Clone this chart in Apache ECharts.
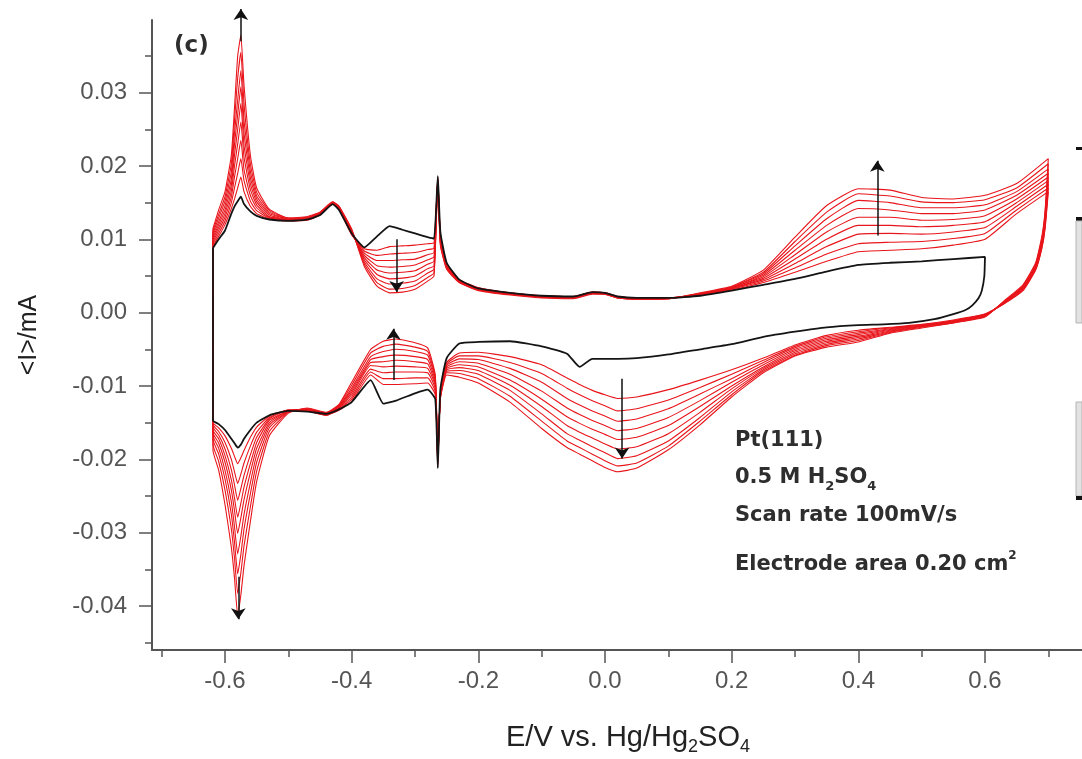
<!DOCTYPE html>
<html>
<head>
<meta charset="utf-8">
<title>Pt(111) CV</title>
<script src="https://cdn.jsdelivr.net/npm/echarts@6/dist/echarts.min.js"></script>
<style>
html, body { margin: 0; padding: 0; background: #fff; }
#chart { width: 1082px; height: 759px; }
</style>
</head>
<body>
<div id="chart"></div>
<script>
// potential grid of the anodic (upper) and cathodic (lower) sweeps, V vs Hg/Hg2SO4
const X_UP = [-0.619, -0.61, -0.6, -0.59, -0.585, -0.58, -0.575, -0.57, -0.56, -0.55,
  -0.53, -0.5, -0.47, -0.45, -0.43, -0.42, -0.4, -0.38, -0.36, -0.34,
  -0.32, -0.3, -0.28, -0.27, -0.264, -0.26, -0.25, -0.23, -0.2, -0.15,
  -0.1, -0.05, -0.02, 0, 0.02, 0.05, 0.1, 0.15, 0.2, 0.25,
  0.3, 0.35, 0.4, 0.45, 0.5, 0.55, 0.6, 0.65, 0.7]
const X_DN = [0.695, 0.69, 0.68, 0.66, 0.63, 0.6, 0.55, 0.5, 0.45, 0.4,
  0.35, 0.3, 0.25, 0.2, 0.15, 0.1, 0.05, 0.02, 0, -0.02,
  -0.04, -0.06, -0.1, -0.15, -0.2, -0.23, -0.25, -0.26, -0.264, -0.268,
  -0.28, -0.3, -0.33, -0.35, -0.37, -0.4, -0.42, -0.44, -0.47, -0.5,
  -0.53, -0.55, -0.56, -0.57, -0.575, -0.58, -0.585, -0.59, -0.6, -0.61, -0.619]
const BLACK_X_DN = [0.6, 0.599, 0.595, 0.59, 0.58, 0.57, 0.55, 0.52, 0.48, 0.44,
  0.4, 0.35, 0.3, 0.25, 0.2, 0.15, 0.1, 0.05, 0.02, 0,
  -0.02, -0.04, -0.06, -0.1, -0.15, -0.2, -0.23, -0.25, -0.26, -0.264,
  -0.268, -0.28, -0.3, -0.33, -0.35, -0.37, -0.4, -0.42, -0.44, -0.47,
  -0.5, -0.53, -0.55, -0.56, -0.57, -0.575, -0.58, -0.585, -0.59, -0.6, -0.61, -0.619]

// first cycle (black), current in mA
const BLACK_UP = [0.0088, 0.0100, 0.0112, 0.0135, 0.0145, 0.0152, 0.0158, 0.0148, 0.0138, 0.0132,
  0.0127, 0.0125, 0.0127, 0.0133, 0.0148, 0.0140, 0.0108, 0.0089, 0.0104, 0.0118,
  0.0113, 0.0108, 0.0103, 0.0101, 0.0186, 0.0110, 0.0068, 0.0045, 0.0033, 0.0027,
  0.0023, 0.0022, 0.0028, 0.0027, 0.0022, 0.0020, 0.0020, 0.0023, 0.0030, 0.0038,
  0.0046, 0.0056, 0.0065, 0.0068, 0.0070, 0.0073, 0.0076]
const BLACK_DN = [0.0076, 0.0050, 0.0030, 0.0020, 0.0010, 0.0004, -0.0002, -0.0009, -0.0014, -0.0016,
  -0.0017, -0.0020, -0.0026, -0.0033, -0.0043, -0.0050, -0.0057, -0.0062, -0.0063, -0.0063,
  -0.0063, -0.0074, -0.0056, -0.0046, -0.0039, -0.0040, -0.0042, -0.0062, -0.0105, -0.0212,
  -0.0118, -0.0105, -0.0110, -0.0120, -0.0124, -0.0092, -0.0122, -0.0132, -0.0138, -0.0135,
  -0.0134, -0.0140, -0.0150, -0.0160, -0.0172, -0.0180, -0.0184, -0.0178, -0.0172, -0.0160, -0.0152, -0.0147]

// following cycles (red), upper sweep
const RED1_UP = [0.0091, 0.0104, 0.0120, 0.0142, 0.0155, 0.0170, 0.0185, 0.0165, 0.0145, 0.0135,
  0.0128, 0.0125, 0.0126, 0.0133, 0.0148, 0.0141, 0.0106, 0.0087, 0.0085, 0.0090,
  0.0091, 0.0092, 0.0094, 0.0095, 0.0185, 0.0108, 0.0067, 0.0045, 0.0034, 0.0027,
  0.0023, 0.0022, 0.0028, 0.0027, 0.0022, 0.0020, 0.0020, 0.0024, 0.0031, 0.0041,
  0.0055, 0.0070, 0.0083, 0.0085, 0.0087, 0.0092, 0.0100, 0.0135, 0.0165]
const RED2_UP = [0.0094, 0.0108, 0.0125, 0.0150, 0.0170, 0.0190, 0.0210, 0.0180, 0.0152, 0.0139,
  0.0129, 0.0126, 0.0127, 0.0134, 0.0148, 0.0142, 0.0107, 0.0084, 0.0078, 0.0080,
  0.0081, 0.0082, 0.0086, 0.0088, 0.0184, 0.0106, 0.0066, 0.0044, 0.0034, 0.0027,
  0.0023, 0.0022, 0.0028, 0.0027, 0.0022, 0.0020, 0.0020, 0.0024, 0.0032, 0.0043,
  0.0061, 0.0080, 0.0094, 0.0096, 0.0097, 0.0101, 0.0108, 0.0140, 0.0170]
const RED3_UP = [0.0097, 0.0112, 0.0130, 0.0158, 0.0185, 0.0210, 0.0235, 0.0195, 0.0160, 0.0143,
  0.0130, 0.0126, 0.0127, 0.0134, 0.0149, 0.0142, 0.0108, 0.0081, 0.0071, 0.0071,
  0.0072, 0.0073, 0.0079, 0.0082, 0.0183, 0.0104, 0.0065, 0.0044, 0.0033, 0.0026,
  0.0022, 0.0021, 0.0027, 0.0027, 0.0021, 0.0020, 0.0020, 0.0025, 0.0033, 0.0045,
  0.0067, 0.0090, 0.0107, 0.0108, 0.0107, 0.0110, 0.0116, 0.0145, 0.0175]
const RED4_UP = [0.0100, 0.0116, 0.0135, 0.0166, 0.0200, 0.0230, 0.0260, 0.0212, 0.0168, 0.0147,
  0.0131, 0.0127, 0.0128, 0.0135, 0.0149, 0.0143, 0.0109, 0.0078, 0.0064, 0.0062,
  0.0063, 0.0065, 0.0072, 0.0076, 0.0182, 0.0102, 0.0064, 0.0043, 0.0033, 0.0026,
  0.0022, 0.0021, 0.0027, 0.0026, 0.0021, 0.0019, 0.0020, 0.0025, 0.0033, 0.0047,
  0.0073, 0.0100, 0.0119, 0.0119, 0.0117, 0.0119, 0.0124, 0.0150, 0.0180]
const RED5_UP = [0.0103, 0.0120, 0.0140, 0.0174, 0.0215, 0.0250, 0.0285, 0.0228, 0.0176, 0.0151,
  0.0133, 0.0127, 0.0128, 0.0135, 0.0150, 0.0143, 0.0110, 0.0075, 0.0058, 0.0054,
  0.0055, 0.0057, 0.0066, 0.0070, 0.0181, 0.0100, 0.0063, 0.0043, 0.0032, 0.0026,
  0.0022, 0.0021, 0.0027, 0.0026, 0.0021, 0.0019, 0.0020, 0.0025, 0.0034, 0.0049,
  0.0079, 0.0110, 0.0130, 0.0130, 0.0126, 0.0127, 0.0132, 0.0155, 0.0185]
const RED6_UP = [0.0106, 0.0124, 0.0146, 0.0182, 0.0230, 0.0270, 0.0308, 0.0245, 0.0184, 0.0155,
  0.0135, 0.0128, 0.0129, 0.0136, 0.0150, 0.0144, 0.0111, 0.0072, 0.0052, 0.0046,
  0.0047, 0.0050, 0.0060, 0.0064, 0.0180, 0.0098, 0.0062, 0.0042, 0.0032, 0.0025,
  0.0021, 0.0020, 0.0026, 0.0026, 0.0021, 0.0019, 0.0019, 0.0026, 0.0034, 0.0051,
  0.0085, 0.0119, 0.0142, 0.0140, 0.0135, 0.0135, 0.0140, 0.0160, 0.0190]
const RED7_UP = [0.0109, 0.0129, 0.0152, 0.0192, 0.0245, 0.0290, 0.0330, 0.0262, 0.0193, 0.0159,
  0.0137, 0.0128, 0.0129, 0.0136, 0.0150, 0.0144, 0.0112, 0.0069, 0.0046, 0.0039,
  0.0040, 0.0043, 0.0054, 0.0059, 0.0179, 0.0096, 0.0061, 0.0042, 0.0031, 0.0025,
  0.0021, 0.0020, 0.0026, 0.0025, 0.0020, 0.0019, 0.0019, 0.0026, 0.0035, 0.0053,
  0.0091, 0.0128, 0.0153, 0.0150, 0.0143, 0.0143, 0.0147, 0.0165, 0.0196]
const RED8_UP = [0.0112, 0.0134, 0.0158, 0.0203, 0.0262, 0.0320, 0.0355, 0.0285, 0.0203, 0.0164,
  0.0139, 0.0129, 0.0130, 0.0137, 0.0151, 0.0145, 0.0113, 0.0066, 0.0041, 0.0032,
  0.0033, 0.0037, 0.0048, 0.0054, 0.0178, 0.0094, 0.0060, 0.0041, 0.0031, 0.0025,
  0.0021, 0.0020, 0.0026, 0.0025, 0.0020, 0.0018, 0.0019, 0.0026, 0.0035, 0.0055,
  0.0097, 0.0137, 0.0162, 0.0159, 0.0151, 0.0150, 0.0154, 0.0170, 0.0203]
const RED9_UP = [0.0115, 0.0140, 0.0165, 0.0215, 0.0280, 0.0350, 0.0378, 0.0310, 0.0215, 0.0170,
  0.0141, 0.0129, 0.0131, 0.0137, 0.0151, 0.0145, 0.0114, 0.0063, 0.0036, 0.0027,
  0.0028, 0.0032, 0.0043, 0.0050, 0.0177, 0.0092, 0.0059, 0.0041, 0.0030, 0.0024,
  0.0020, 0.0019, 0.0025, 0.0025, 0.0020, 0.0018, 0.0019, 0.0027, 0.0036, 0.0058,
  0.0103, 0.0146, 0.0169, 0.0167, 0.0157, 0.0155, 0.0160, 0.0176, 0.0210]

// following cycles (red), lower sweep
const RED1_DN = [0.0115, 0.0088, 0.0058, 0.0030, 0.0012, -0.0002, -0.0010, -0.0016, -0.0020, -0.0024,
  -0.0031, -0.0044, -0.0062, -0.0078, -0.0092, -0.0105, -0.0115, -0.0117, -0.0112, -0.0106,
  -0.0098, -0.0089, -0.0071, -0.0060, -0.0054, -0.0055, -0.0068, -0.0110, -0.0210, -0.0112,
  -0.0096, -0.0097, -0.0098, -0.0098, -0.0085, -0.0121, -0.0133, -0.0140, -0.0134, -0.0133,
  -0.0141, -0.0156, -0.0170, -0.0188, -0.0198, -0.0206, -0.0196, -0.0185, -0.0168, -0.0157, -0.0150]
const RED2_DN = [0.0118, 0.0090, 0.0059, 0.0031, 0.0012, -0.0002, -0.0011, -0.0017, -0.0021, -0.0026,
  -0.0033, -0.0046, -0.0065, -0.0084, -0.0102, -0.0119, -0.0131, -0.0134, -0.0127, -0.0120,
  -0.0112, -0.0103, -0.0083, -0.0068, -0.0059, -0.0059, -0.0070, -0.0111, -0.0208, -0.0108,
  -0.0089, -0.0089, -0.0090, -0.0090, -0.0081, -0.0118, -0.0132, -0.0140, -0.0134, -0.0133,
  -0.0143, -0.0163, -0.0182, -0.0205, -0.0220, -0.0233, -0.0217, -0.0200, -0.0177, -0.0162, -0.0153]
const RED3_DN = [0.0121, 0.0092, 0.0060, 0.0032, 0.0013, -0.0003, -0.0011, -0.0017, -0.0022, -0.0028,
  -0.0035, -0.0048, -0.0068, -0.0090, -0.0111, -0.0131, -0.0145, -0.0148, -0.0141, -0.0134,
  -0.0126, -0.0117, -0.0095, -0.0076, -0.0064, -0.0063, -0.0072, -0.0112, -0.0206, -0.0104,
  -0.0082, -0.0081, -0.0081, -0.0082, -0.0077, -0.0115, -0.0131, -0.0139, -0.0133, -0.0133,
  -0.0145, -0.0170, -0.0194, -0.0222, -0.0240, -0.0256, -0.0235, -0.0214, -0.0186, -0.0167, -0.0156]
const RED4_DN = [0.0124, 0.0094, 0.0061, 0.0033, 0.0013, -0.0003, -0.0012, -0.0018, -0.0023, -0.0030,
  -0.0037, -0.0050, -0.0071, -0.0095, -0.0120, -0.0143, -0.0158, -0.0161, -0.0154, -0.0147,
  -0.0139, -0.0130, -0.0107, -0.0084, -0.0069, -0.0067, -0.0074, -0.0113, -0.0204, -0.0100,
  -0.0076, -0.0074, -0.0073, -0.0074, -0.0072, -0.0112, -0.0130, -0.0139, -0.0133, -0.0134,
  -0.0147, -0.0177, -0.0206, -0.0238, -0.0260, -0.0279, -0.0253, -0.0228, -0.0195, -0.0172, -0.0160]
const RED5_DN = [0.0127, 0.0096, 0.0062, 0.0034, 0.0014, -0.0004, -0.0012, -0.0018, -0.0024, -0.0032,
  -0.0039, -0.0052, -0.0074, -0.0100, -0.0128, -0.0154, -0.0170, -0.0173, -0.0166, -0.0159,
  -0.0151, -0.0142, -0.0118, -0.0092, -0.0074, -0.0071, -0.0076, -0.0114, -0.0202, -0.0097,
  -0.0070, -0.0067, -0.0065, -0.0067, -0.0068, -0.0109, -0.0129, -0.0138, -0.0132, -0.0134,
  -0.0150, -0.0185, -0.0218, -0.0255, -0.0280, -0.0301, -0.0270, -0.0242, -0.0204, -0.0178, -0.0164]
const RED6_DN = [0.0130, 0.0098, 0.0063, 0.0035, 0.0014, -0.0004, -0.0013, -0.0019, -0.0025, -0.0034,
  -0.0041, -0.0054, -0.0076, -0.0104, -0.0136, -0.0165, -0.0183, -0.0186, -0.0179, -0.0171,
  -0.0163, -0.0154, -0.0128, -0.0099, -0.0079, -0.0075, -0.0078, -0.0115, -0.0200, -0.0094,
  -0.0064, -0.0060, -0.0058, -0.0060, -0.0064, -0.0106, -0.0128, -0.0138, -0.0132, -0.0135,
  -0.0153, -0.0194, -0.0232, -0.0275, -0.0305, -0.0329, -0.0292, -0.0258, -0.0215, -0.0185, -0.0168]
const RED7_DN = [0.0133, 0.0100, 0.0065, 0.0036, 0.0015, -0.0005, -0.0013, -0.0019, -0.0026, -0.0036,
  -0.0043, -0.0056, -0.0078, -0.0108, -0.0143, -0.0175, -0.0195, -0.0199, -0.0191, -0.0183,
  -0.0174, -0.0165, -0.0138, -0.0106, -0.0084, -0.0079, -0.0080, -0.0116, -0.0198, -0.0091,
  -0.0058, -0.0053, -0.0050, -0.0053, -0.0060, -0.0103, -0.0127, -0.0137, -0.0131, -0.0135,
  -0.0157, -0.0204, -0.0247, -0.0295, -0.0330, -0.0356, -0.0313, -0.0275, -0.0227, -0.0193, -0.0173]
const RED8_DN = [0.0136, 0.0102, 0.0066, 0.0037, 0.0015, -0.0005, -0.0014, -0.0020, -0.0027, -0.0038,
  -0.0045, -0.0058, -0.0080, -0.0112, -0.0148, -0.0182, -0.0205, -0.0209, -0.0202, -0.0193,
  -0.0184, -0.0175, -0.0148, -0.0114, -0.0090, -0.0083, -0.0082, -0.0117, -0.0196, -0.0088,
  -0.0053, -0.0047, -0.0043, -0.0046, -0.0055, -0.0099, -0.0126, -0.0137, -0.0131, -0.0136,
  -0.0162, -0.0216, -0.0265, -0.0318, -0.0355, -0.0383, -0.0335, -0.0295, -0.0242, -0.0203, -0.0180]
const RED9_DN = [0.0140, 0.0105, 0.0068, 0.0038, 0.0016, -0.0006, -0.0014, -0.0021, -0.0028, -0.0040,
  -0.0047, -0.0059, -0.0082, -0.0115, -0.0153, -0.0187, -0.0212, -0.0217, -0.0211, -0.0202,
  -0.0193, -0.0184, -0.0158, -0.0122, -0.0096, -0.0088, -0.0085, -0.0118, -0.0194, -0.0085,
  -0.0048, -0.0041, -0.0036, -0.0039, -0.0050, -0.0095, -0.0125, -0.0136, -0.0130, -0.0137,
  -0.0168, -0.0230, -0.0285, -0.0345, -0.0385, -0.0413, -0.0362, -0.0320, -0.0262, -0.0215, -0.0188]

const RED_UP = [RED1_UP, RED2_UP, RED3_UP, RED4_UP, RED5_UP, RED6_UP, RED7_UP, RED8_UP, RED9_UP]
const RED_DN = [RED1_DN, RED2_DN, RED3_DN, RED4_DN, RED5_DN, RED6_DN, RED7_DN, RED8_DN, RED9_DN]

// arrows showing the trend with cycling
const ARROW_E = [-0.575, -0.579, -0.329, -0.334, 0.027, 0.43]
const ARROW_FROM = [0.0370, -0.0360, 0.0100, -0.0092, -0.0090, 0.0105]
const ARROW_TO = [0.0414, -0.0418, 0.0028, -0.0022, -0.0199, 0.0207]

// axis ticks
const X_TICKS = [-0.6, -0.4, -0.2, 0, 0.2, 0.4, 0.6]
const X_MINOR = [-0.7, -0.5, -0.3, -0.1, 0.1, 0.3, 0.5, 0.7]
const Y_TICKS = [-0.04, -0.03, -0.02, -0.01, 0, 0.01, 0.02, 0.03]
const Y_MINOR = [-0.045, -0.035, -0.025, -0.015, -0.005, 0.005, 0.015, 0.025, 0.035]

const FONT = '"Liberation Sans", Arial, sans-serif'
const NOTE_FONT = '"DejaVu Sans", Verdana, sans-serif'
const AXIS_COLOR = '#555'
const X_MIN = -0.7153
const X_MAX = 0.7532
const Y_MIN = -0.046
const Y_MAX = 0.0399

function loop(xu, yu, xd, yd) {
  const pts = yu.map((y, i) => [xu[i], y]).concat(yd.map((y, i) => [xd[i], y]))
  pts.push(pts[0])
  return pts
}

const series = RED_UP.map((up, k) => ({
  name: 'cycle ' + (k + 2),
  type: 'line',
  data: loop(X_UP, up, X_DN, RED_DN[k]),
  showSymbol: false,
  symbol: 'none',
  smooth: 0.15,
  silent: true,
  z: 2,
  lineStyle: { color: '#e8151b', width: 1.1 }
}))

series.push({
  name: 'cycle 1',
  type: 'line',
  data: loop(X_UP, BLACK_UP, BLACK_X_DN, BLACK_DN),
  showSymbol: false,
  symbol: 'none',
  smooth: 0.15,
  silent: true,
  z: 3,
  lineStyle: { color: '#141414', width: 1.8 }
})

series.push({
  type: 'lines',
  coordinateSystem: 'cartesian2d',
  symbol: ['none', 'arrow'],
  symbolSize: [0, 11],
  clip: false,
  silent: true,
  z: 5,
  lineStyle: { color: '#111', width: 1.5, opacity: 1, curveness: 0 },
  data: ARROW_E.map((e, i) => ({ coords: [[e, ARROW_FROM[i]], [e, ARROW_TO[i]]] }))
})

function minorAxis(values, length, min, max, position) {
  return {
    type: 'value',
    min: min,
    max: max,
    position: position,
    axisLine: { show: false, onZero: false },
    axisTick: { show: true, customValues: values, length: length, lineStyle: { color: AXIS_COLOR, width: 1.5 } },
    axisLabel: { show: false },
    splitLine: { show: false }
  }
}

const noteStyle = { fontSize: 21, fontWeight: 'bold', fontFamily: NOTE_FONT, fill: '#2e2e2e', verticalAlign: 'middle' }

const chart = echarts.init(document.getElementById('chart'))
chart.setOption({
  animation: false,
  backgroundColor: '#fff',
  grid: { left: 152, right: 0, top: 20, bottom: 109, outerBoundsMode: 'none' },
  xAxis: [{
    type: 'value',
    min: X_MIN,
    max: X_MAX,
    position: 'bottom',
    axisLine: { show: true, onZero: false, lineStyle: { color: AXIS_COLOR, width: 2 } },
    axisTick: { show: true, customValues: X_TICKS, length: 13, lineStyle: { color: AXIS_COLOR, width: 1.5 } },
    axisLabel: { customValues: X_TICKS, formatter: v => v.toFixed(1), fontSize: 24, color: '#555', fontFamily: FONT, margin: 19 },
    splitLine: { show: false },
    name: 'E/V vs. Hg/Hg{s|2}SO{s|4}',
    nameLocation: 'middle',
    nameGap: 70,
    nameTextStyle: {
      fontSize: 29, color: '#222', fontFamily: FONT, lineHeight: 36, padding: [0, 0, 0, 22],
      rich: { s: { fontSize: 18, lineHeight: 13, verticalAlign: 'bottom', color: '#222', fontFamily: FONT } }
    }
  }, minorAxis(X_MINOR, 7, X_MIN, X_MAX, 'bottom')],
  yAxis: [{
    type: 'value',
    min: Y_MIN,
    max: Y_MAX,
    position: 'left',
    axisLine: { show: true, onZero: false, lineStyle: { color: AXIS_COLOR, width: 2 } },
    axisTick: { show: true, customValues: Y_TICKS, length: 13, lineStyle: { color: AXIS_COLOR, width: 1.5 } },
    axisLabel: { customValues: Y_TICKS, formatter: v => v.toFixed(2), fontSize: 24, color: '#555', fontFamily: FONT, margin: 25 },
    splitLine: { show: false },
    name: '<I>/mA',
    nameLocation: 'middle',
    nameGap: 110,
    nameTextStyle: { fontSize: 25, color: '#222', fontFamily: FONT }
  }, minorAxis(Y_MINOR, 7, Y_MIN, Y_MAX, 'left')],
  series: series,
  graphic: [
    { type: 'text', x: 174, y: 46, style: Object.assign({}, noteStyle, { text: '(c)', fontSize: 23 }) },
    { type: 'text', x: 735, y: 441, style: Object.assign({}, noteStyle, { text: 'Pt(111)' }) },
    {
      type: 'text', x: 735, y: 478,
      style: Object.assign({}, noteStyle, {
        text: '0.5 M H{s|2}SO{s|4}',
        lineHeight: 30,
        rich: { s: { fontSize: 13, fontWeight: 'bold', fontFamily: NOTE_FONT, lineHeight: 10, verticalAlign: 'bottom' } }
      })
    },
    { type: 'text', x: 735, y: 516, style: Object.assign({}, noteStyle, { text: 'Scan rate 100mV/s' }) },
    {
      type: 'text', x: 735, y: 565,
      style: Object.assign({}, noteStyle, {
        text: 'Electrode area 0.20 cm{p|2}',
        lineHeight: 30,
        rich: { p: { fontSize: 12, fontWeight: 'bold', fontFamily: NOTE_FONT, lineHeight: 10, verticalAlign: 'top' } }
      })
    },
    // edge of the neighbouring panel
    { type: 'rect', shape: { x: 1076, y: 147, width: 6, height: 3 }, style: { fill: '#111' } },
    { type: 'rect', shape: { x: 1076, y: 217, width: 6, height: 4 }, style: { fill: '#111' } },
    { type: 'rect', shape: { x: 1076, y: 221, width: 6, height: 102 }, style: { fill: '#e2e2e2', stroke: '#b5b5b5', lineWidth: 1 } },
    { type: 'rect', shape: { x: 1076, y: 402, width: 6, height: 94 }, style: { fill: '#e2e2e2', stroke: '#b5b5b5', lineWidth: 1 } },
    { type: 'rect', shape: { x: 1076, y: 496, width: 6, height: 4 }, style: { fill: '#111' } }
  ]
})
</script>
</body>
</html>
